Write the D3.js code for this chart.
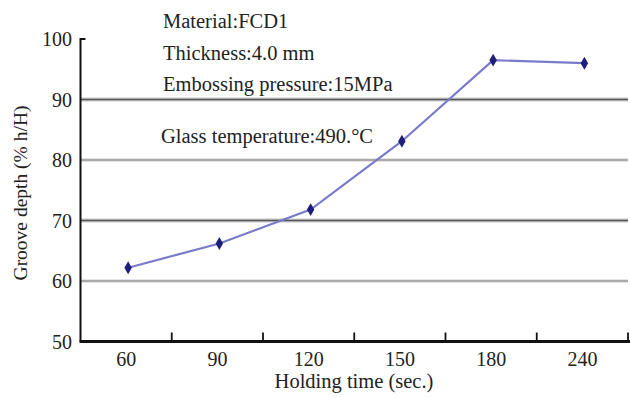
<!DOCTYPE html>
<html><head><meta charset="utf-8">
<script src="https://cdn.jsdelivr.net/npm/d3@7"></script>
<style>body{margin:0;background:#fff;} svg{display:block;} text{font-family:"Liberation Serif","Times New Roman",serif;fill:#222;}</style>
</head><body>
<svg id="chart" width="630" height="398"></svg>
<script>
const categories = ["60","90","120","150","180","240"];
const grooveDepth = [62.2, 66.2, 71.8, 83.1, 96.5, 96.0];
const yTicks = [50, 60, 70, 80, 90, 100];
const annotations = ["Material:FCD1","Thickness:4.0 mm","Embossing pressure:15MPa","Glass temperature:490.°C"];

const svg = d3.select("#chart");
const pLeft = 80.5, pRight = 628, pTop = 39, pBottom = 341.5;
const x = d3.scaleBand().domain(categories).range([pLeft, pRight]).padding(0);
const y = d3.scaleLinear().domain([50, 100]).range([pBottom, pTop]);

// gridlines
yTicks.filter(v => v > 50 && v < 100).forEach(v => {
  const dark = (v === 90 || v === 70);
  svg.append("line").attr("x1", pLeft).attr("x2", pRight).attr("y1", y(v)).attr("y2", y(v))
    .attr("stroke", dark ? "#c8c8c8" : "#dcdcdc").attr("stroke-width", dark ? 4 : 3.5);
  svg.append("line").attr("x1", pLeft).attr("x2", pRight).attr("y1", y(v)).attr("y2", y(v))
    .attr("stroke", dark ? "#555" : "#9a9a9a").attr("stroke-width", 1.6);
});

// y axis
svg.append("line").attr("x1", pLeft).attr("x2", pLeft).attr("y1", y(100)-1).attr("y2", pBottom)
  .attr("stroke", "#111").attr("stroke-width", 2);
svg.append("line").attr("x1", pLeft).attr("x2", pLeft+5).attr("y1", y(100)).attr("y2", y(100))
  .attr("stroke", "#111").attr("stroke-width", 2);
svg.selectAll(".ytl").data(yTicks).enter().append("text")
  .attr("x", 72).attr("y", d => y(d) + 7).attr("text-anchor", "end")
  .attr("font-size", 20).text(d => d);

// x axis
svg.append("line").attr("x1", pLeft-1).attr("x2", pRight+2).attr("y1", pBottom).attr("y2", pBottom)
  .attr("stroke", "#111").attr("stroke-width", 3);
categories.forEach((c, i) => {
  const xt = x(c) + x.bandwidth();
  svg.append("line").attr("x1", xt).attr("x2", xt).attr("y1", pBottom).attr("y2", pBottom - 9)
    .attr("stroke", "#111").attr("stroke-width", 1.8);
});
svg.selectAll(".xtl").data(categories).enter().append("text")
  .attr("x", d => x(d) + x.bandwidth()/2).attr("y", 366).attr("text-anchor", "middle")
  .attr("font-size", 20).text(d => d);

// axis titles
svg.append("text").attr("x", 354).attr("y", 388).attr("text-anchor", "middle")
  .attr("font-size", 20.5).text("Holding time (sec.)");
svg.append("text").attr("transform", "translate(27,193) rotate(-90)").attr("text-anchor", "middle")
  .attr("font-size", 19.5).text("Groove depth (% h/H)");

// annotations
const annY = [28, 60, 91, 143];
const annX = [163, 163, 163, 161];
annotations.forEach((t, i) => {
  svg.append("text").attr("x", annX[i]).attr("y", annY[i]).attr("font-size", 20.5).text(t);
});

// line
const line = d3.line().x((d, i) => x(categories[i]) + x.bandwidth()/2 + 2).y(d => y(d));
svg.append("path").datum(grooveDepth).attr("d", line).attr("fill", "none")
  .attr("stroke", "#7a7acb").attr("stroke-width", 2.2);
svg.selectAll(".pt").data(grooveDepth).enter().append("path")
  .attr("d", d3.symbol().type(d3.symbolDiamond).size(48)())
  .attr("transform", (d, i) => `translate(${x(categories[i]) + x.bandwidth()/2 + 2},${y(d)})`)
  .attr("fill", "#1e1e7c");
</script>
</body></html>
